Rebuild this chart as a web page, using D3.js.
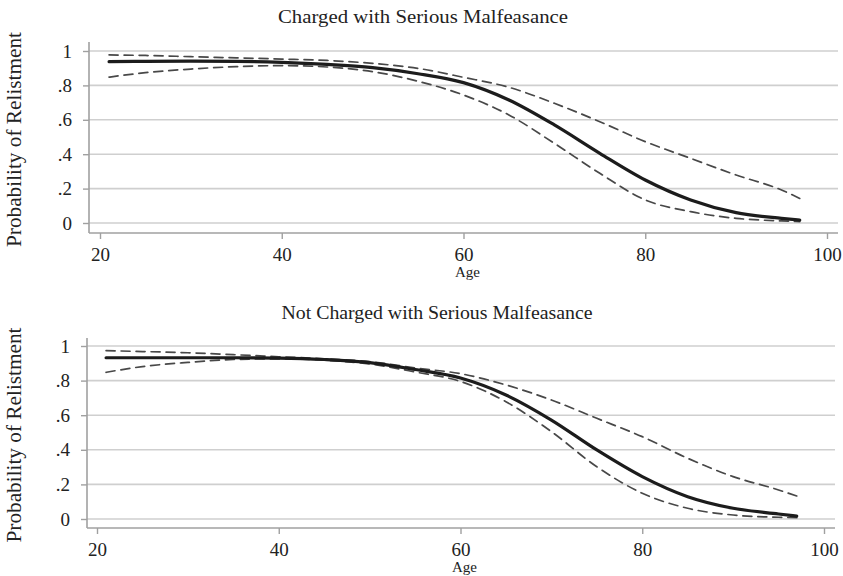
<!DOCTYPE html>
<html>
<head>
<meta charset="utf-8">
<script src="https://cdn.jsdelivr.net/npm/d3@7"></script>
<style>
  body { margin: 0; background: #fff; }
  svg text { font-family: "Liberation Serif", "DejaVu Serif", serif; fill: #222; }
</style>
</head>
<body>
<svg id="chart" width="843" height="576"></svg>
<script>

let ages = [21, 25, 30, 35, 40, 45, 50, 55, 60, 65, 70, 75, 80, 85, 90, 95, 97]

// charged with serious malfeasance
let charged_fit   = [0.938, 0.940, 0.941, 0.940, 0.934, 0.922, 0.903, 0.868, 0.816, 0.715, 0.570, 0.405, 0.250, 0.134, 0.060, 0.027, 0.017]
let charged_upper = [0.977, 0.974, 0.967, 0.960, 0.953, 0.945, 0.928, 0.899, 0.847, 0.789, 0.696, 0.589, 0.473, 0.376, 0.279, 0.192, 0.143]
let charged_lower = [0.848, 0.874, 0.895, 0.909, 0.915, 0.907, 0.880, 0.824, 0.744, 0.628, 0.463, 0.289, 0.134, 0.066, 0.027, 0.012, 0.008]

// not charged
let notcharged_fit   = [0.932, 0.932, 0.932, 0.932, 0.930, 0.922, 0.904, 0.864, 0.815, 0.717, 0.572, 0.399, 0.245, 0.129, 0.062, 0.029, 0.017]
let notcharged_upper = [0.973, 0.968, 0.961, 0.950, 0.938, 0.926, 0.910, 0.873, 0.840, 0.775, 0.688, 0.582, 0.476, 0.351, 0.245, 0.168, 0.133]
let notcharged_lower = [0.848, 0.881, 0.905, 0.922, 0.926, 0.918, 0.896, 0.850, 0.795, 0.678, 0.505, 0.302, 0.149, 0.062, 0.023, 0.010, 0.008]

let x_ticks = [20, 40, 60, 80, 100]
let y_ticks = [0, 0.2, 0.4, 0.6, 0.8, 1]
let y_tick_labels = ["0", ".2", ".4", ".6", ".8", "1"]

let panels = [
    { title: "Charged with Serious Malfeasance", fit: charged_fit, upper: charged_upper, lower: charged_lower,
      x0: 100, x1: 827, y0: 223, y1: 51, axis_x: 89, axis_y: 233, top: 42, right: 838,
      title_x: 423, title_y: 23, title_w: 290 },
    { title: "Not Charged with Serious Malfeasance", fit: notcharged_fit, upper: notcharged_upper, lower: notcharged_lower,
      x0: 97, x1: 824, y0: 519, y1: 346, axis_x: 87, axis_y: 528, top: 338, right: 835,
      title_x: 437, title_y: 319, title_w: 311 }
]

let svg = d3.select('#chart')

function drawPanel(p) {
    let g = svg.append('g')

    let x = d3.scaleLinear().domain([20, 100]).range([p.x0, p.x1])
    let y = d3.scaleLinear().domain([0, 1]).range([p.y0, p.y1])

    // grid
    g.append('g').selectAll('line')
        .data(y_ticks)
        .join('line')
        .attr('x1', p.axis_x).attr('x2', p.right)
        .attr('y1', (d) => y(d)).attr('y2', (d) => y(d))
        .attr('stroke', '#cfcfcf').attr('stroke-width', 1.6)

    // y axis
    let y_axis = d3.axisLeft(y).tickValues(y_ticks).tickSize(6).tickPadding(11)
        .tickFormat((d, i) => y_tick_labels[i])
    let ya = g.append('g').attr('transform', `translate(${p.axis_x},0)`).call(y_axis)
    ya.select('.domain').remove()
    ya.selectAll('.tick line').attr('stroke', '#a0a0a0').attr('stroke-width', 1.4)
    ya.selectAll('.tick text').attr('font-size', 19).attr('font-family', '"Liberation Serif", serif').attr('fill', '#222')
    g.append('line')
        .attr('x1', p.axis_x).attr('x2', p.axis_x)
        .attr('y1', p.top).attr('y2', p.axis_y)
        .attr('stroke', '#a0a0a0').attr('stroke-width', 1.6)

    // x axis
    let x_axis = d3.axisBottom(x).tickValues(x_ticks).tickSize(6).tickPadding(9).tickFormat(d3.format('d'))
    let xa = g.append('g').attr('transform', `translate(0,${p.axis_y})`).call(x_axis)
    xa.select('.domain').remove()
    xa.selectAll('.tick line').attr('stroke', '#a0a0a0').attr('stroke-width', 1.4)
    xa.selectAll('.tick text').attr('font-size', 19).attr('font-family', '"Liberation Serif", serif').attr('fill', '#222')
    g.append('line')
        .attr('x1', p.axis_x).attr('x2', p.right)
        .attr('y1', p.axis_y).attr('y2', p.axis_y)
        .attr('stroke', '#a0a0a0').attr('stroke-width', 1.6)

    // curves
    let line = d3.line().curve(d3.curveMonotoneX)
        .x((d) => x(d[0])).y((d) => y(d[1]))

    let series = [
        { values: p.upper, width: 1.7, color: '#484848', dash: '9,6' },
        { values: p.lower, width: 1.7, color: '#484848', dash: '9,6' },
        { values: p.fit, width: 3.2, color: '#1c1c1c', dash: null }
    ]
    g.append('g').selectAll('path')
        .data(series)
        .join('path')
        .attr('d', (s) => line(ages.map((a, i) => [a, s.values[i]])))
        .attr('fill', 'none')
        .attr('stroke', (s) => s.color)
        .attr('stroke-width', (s) => s.width)
        .attr('stroke-dasharray', (s) => s.dash)
        .attr('stroke-linecap', 'round')

    // titles
    g.append('text')
        .attr('x', p.title_x).attr('y', p.title_y)
        .attr('text-anchor', 'middle')
        .attr('font-size', 19)
        .attr('textLength', p.title_w).attr('lengthAdjust', 'spacingAndGlyphs')
        .text(p.title)

    g.append('text')
        .attr('x', (p.x0 + p.x1) / 2 + 4).attr('y', p.axis_y + 44)
        .attr('text-anchor', 'middle')
        .attr('font-size', 15)
        .text('Age')

    let mid = (p.top + p.axis_y) / 2 + 2
    g.append('text')
        .attr('transform', `translate(21,${mid}) rotate(-90)`)
        .attr('text-anchor', 'middle')
        .attr('font-size', 20)
        .attr('textLength', 215).attr('lengthAdjust', 'spacingAndGlyphs')
        .text('Probability of Relistment')
}

for (let p of panels) drawPanel(p)

</script>
</body>
</html>
